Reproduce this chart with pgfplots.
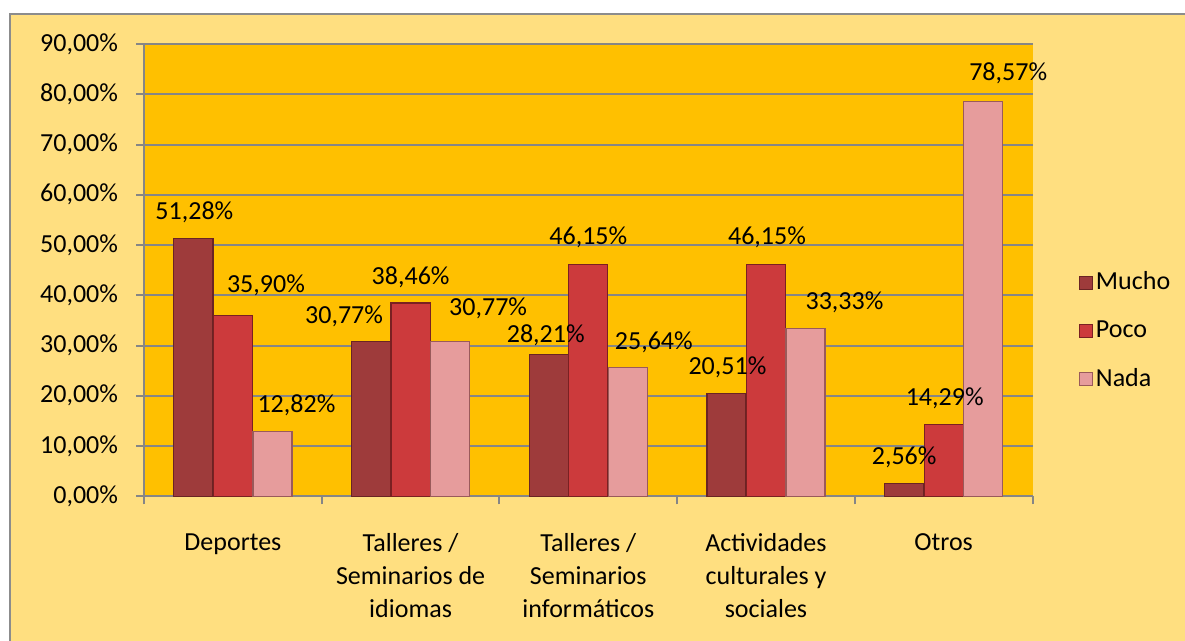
\documentclass[border=0pt]{standalone}
\usepackage{pgfplots}
\usepackage{pgfplotstable}
\pgfplotsset{compat=1.18}
\usepackage{fontspec}
\setmainfont{Carlito}
\definecolor{frameY}{HTML}{FFDF80}
\definecolor{plotO}{HTML}{FFC000}
\definecolor{gridG}{HTML}{868686}
\definecolor{frameG}{HTML}{8C8C8C}
\definecolor{mucho}{HTML}{9E3B3B}
\definecolor{muchoD}{HTML}{6A2424}
\definecolor{poco}{HTML}{CC3A3C}
\definecolor{pocoD}{HTML}{7A2022}
\definecolor{nada}{HTML}{E69C9C}
\definecolor{nadaD}{HTML}{9A5A5A}

\pgfplotstableread{
x y dx dy
0 51.28 0.5 13.25
1 30.77 -13.5 12.75
2 28.21 -1.5 9.5
3 20.51 0.5 13
4 2.56 0 13
}\mucho
\pgfplotstableread{
x y dx dy
0 35.90 16.5 15.35
1 38.46 0 13
2 46.15 0 13.5
3 46.15 0.5 13.5
4 14.29 0.5 13
}\poco
\pgfplotstableread{
x y dx dy
0 12.82 12 13.3
1 30.77 19 16.75
2 25.64 13 12.5
3 33.33 19.5 13.3
4 78.57 12.5 14
}\nada

\begin{document}
\fontsize{13}{16.5}\selectfont
\begin{tikzpicture}
\useasboundingbox (0,0) rectangle (592.2pt,-320.3pt);
\fill[white] (-5pt,5pt) rectangle (600pt,-330pt);
\fill[frameY] (5pt,-7pt) rectangle (600pt,-330pt);
\draw[frameG, line width=1pt] (5pt,-330pt) -- (5pt,-7pt) -- (600pt,-7pt);
\begin{axis}[
  at={(72pt,-248pt)}, anchor=south west,
  scale only axis, width=444pt, height=226pt,
  clip=false,
  /pgf/number format/assume math mode=true,
  axis background/.style={fill=plotO},
  ybar=0.25pt, bar width=19.5pt,
  xmin=-0.5, xmax=4.5, ymin=0, ymax=90,
  axis x line*=bottom, axis y line*=left,
  axis line style={draw=gridG, line width=1pt},
  ytick={0,10,...,90},
  ymajorgrids, grid style={draw=gridG, line width=1pt},
  yticklabel={\pgfmathprintnumber[fixed,fixed zerofill,precision=2,use comma]{\tick}\%},
  tick align=outside, major tick length=4pt,
  tick style={draw=gridG, line width=1pt},
  xtick={0,...,4},
  x tick style={draw=none},
  xticklabels={Deportes,{Talleres /\\Seminarios de\\idiomas},{Talleres /\\Seminarios\\informáticos},{Actividades\\culturales y\\sociales},Otros},
  xticklabel style={align=center, font=\fontsize{13}{16.5}\selectfont, yshift=-10pt},
  yticklabel style={font=\fontsize{13}{16.5}\selectfont, xshift=-4.5pt},
  extra x ticks={-0.5,0.5,1.5,2.5,3.5,4.5},
  extra x tick labels={},
  extra x tick style={x tick style={draw=gridG, line width=1pt}, major tick length=4pt},
  nodes near coords={\pgfmathprintnumber[fixed,fixed zerofill,precision=2,use comma]{\pgfplotspointmeta}\%},
  nodes near coords style={font=\fontsize{13}{16.5}\selectfont, anchor=center, inner sep=0pt, xshift=\dx pt, yshift=\dy pt},
  visualization depends on={\thisrow{dx} \as \dx},
  visualization depends on={\thisrow{dy} \as \dy},
  legend cell align=left,
  legend style={at={(axis description cs:1.0518,0.365)}, anchor=west, draw=none, fill=none,
    font=\fontsize{13}{16.5}\selectfont, row sep=13.5pt, inner sep=0pt,
    nodes={inner xsep=1.5pt, inner ysep=0pt}},
  legend image code/.code={\draw[#1, line width=0.5pt] (0pt,-3.25pt) rectangle (6.5pt,3.25pt);},
]
\addplot[fill=mucho, draw=muchoD, line width=0.6pt] table[x=x,y=y] {\mucho};
\addplot[fill=poco, draw=pocoD, line width=0.6pt] table[x=x,y=y] {\poco};
\addplot[fill=nada, draw=nadaD, line width=0.6pt] table[x=x,y=y] {\nada};
\legend{Mucho,Poco,Nada}
\end{axis}
\end{tikzpicture}
\end{document}
